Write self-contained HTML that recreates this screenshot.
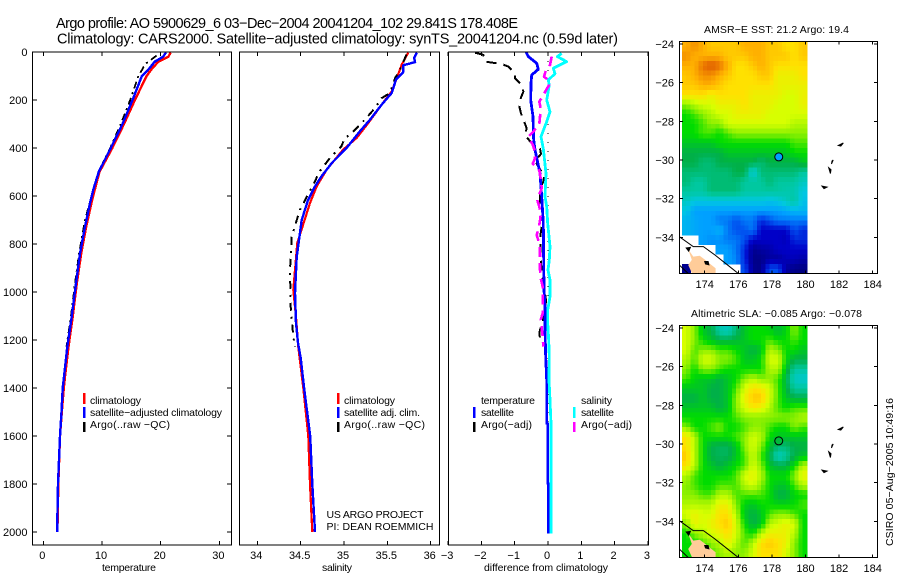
<!DOCTYPE html>
<html lang="en">
<head>
<meta charset="utf-8">
<title>Argo profile 5900629_6</title>
<style>
html,body{margin:0;padding:0;background:#fff;width:900px;height:580px;overflow:hidden}
svg{display:block}
text{font-family:"Liberation Sans",sans-serif;fill:#000}
</style>
</head>
<body>
<svg id="chart" width="900" height="580" viewBox="0 0 900 580" xmlns="http://www.w3.org/2000/svg">
  <rect width="900" height="580" fill="#fff"/>
  <text x="56" y="28" font-size="14.5" textLength="462" lengthAdjust="spacing">Argo profile: AO 5900629_6 03−Dec−2004 20041204_102 29.841S 178.408E</text>
  <text x="57" y="43.5" font-size="14.5" textLength="561" lengthAdjust="spacing">Climatology: CARS2000. Satellite−adjusted climatology: synTS_20041204.nc (0.59d later)</text>

  <g id="heat"></g>
  <g id="geo"></g>
  <g id="series"></g>
  <g id="axes"></g>

  <text x="102" y="571" font-size="10.5" textLength="54" lengthAdjust="spacing">temperature</text>
  <text x="322" y="571" font-size="10.5" textLength="30" lengthAdjust="spacing">salinity</text>
  <text x="484" y="571" font-size="10.5" textLength="124" lengthAdjust="spacing">difference from climatology</text>

  <g>
    <rect x="83" y="393" width="2.5" height="11" fill="#f00"/>
    <rect x="83" y="407" width="2.5" height="11" fill="#00f"/>
    <rect x="83" y="422" width="2.5" height="10" fill="#000"/>
    <text x="90" y="404" font-size="10.5" textLength="51" lengthAdjust="spacing">climatology</text>
    <text x="90" y="416" font-size="10.5" textLength="132" lengthAdjust="spacing">satellite−adjusted climatology</text>
    <text x="90" y="428" font-size="10.5" textLength="80" lengthAdjust="spacing">Argo(..raw −QC)</text>
  </g>
  <g>
    <rect x="337" y="393" width="2.5" height="11" fill="#f00"/>
    <rect x="337" y="407" width="2.5" height="11" fill="#00f"/>
    <rect x="337" y="422" width="2.5" height="10" fill="#000"/>
    <text x="344" y="404" font-size="10.5" textLength="51" lengthAdjust="spacing">climatology</text>
    <text x="344" y="416" font-size="10.5" textLength="76" lengthAdjust="spacing">satellite adj. clim.</text>
    <text x="344" y="428" font-size="10.5" textLength="81" lengthAdjust="spacing">Argo(..raw −QC)</text>
  </g>
  <text x="326.5" y="518" font-size="10.5" textLength="97" lengthAdjust="spacing">US ARGO PROJECT</text>
  <text x="326.5" y="530" font-size="10.5" textLength="107" lengthAdjust="spacing">PI: DEAN ROEMMICH</text>

  <g>
    <text x="481" y="404" font-size="10.5" textLength="54" lengthAdjust="spacing">temperature</text>
    <rect x="473" y="407" width="2.5" height="11" fill="#00f"/>
    <text x="481" y="416" font-size="10.5" textLength="33" lengthAdjust="spacing">satellite</text>
    <rect x="473" y="422" width="2.5" height="10" fill="#000"/>
    <text x="481" y="428" font-size="10.5" textLength="51" lengthAdjust="spacing">Argo(−adj)</text>
    <text x="581" y="404" font-size="10.5" textLength="31" lengthAdjust="spacing">salinity</text>
    <rect x="573" y="407" width="2.5" height="11" fill="#0ff"/>
    <text x="581" y="416" font-size="10.5" textLength="33" lengthAdjust="spacing">satellite</text>
    <rect x="573" y="422" width="2.5" height="10" fill="#f0f"/>
    <text x="581" y="428" font-size="10.5" textLength="51" lengthAdjust="spacing">Argo(−adj)</text>
  </g>

  <text x="704" y="33" font-size="10.5" textLength="145" lengthAdjust="spacing">AMSR−E SST: 21.2 Argo: 19.4</text>
  <text x="691" y="317" font-size="10.5" textLength="171" lengthAdjust="spacing">Altimetric SLA: −0.085 Argo: −0.078</text>
  <text transform="translate(893 546) rotate(-90)" font-size="10.5" textLength="148" lengthAdjust="spacing">CSIRO 05−Aug−2005 10:49:16</text>
</svg>

<script>
/* ---------- depth axis ---------- */
const depthTicks = [0,200,400,600,800,1000,1200,1400,1600,1800,2000];

/* ---------- temperature panel ---------- */
const tempTicks = [0,10,20,30];
const tempClimDepth = [2,20,40,70,100,200,300,400,500,575,630,728,839,964,1103,1228,1353,1400,1500,1600,1800,2000];
const tempClim = [21.7,21.3,19.6,18.5,17.6,15.6,13.75,11.76,9.55,8.75,8.2,7.3,6.45,5.7,5.0,4.3,3.7,3.5,3.15,2.85,2.56,2.4];
const tempSatDepth = [2,20,40,70,100,200,300,400,500,575,630,728,839,964,1103,1228,1353,1400,1500,1600,1800,2000];
const tempSat = [20.9,20.4,19.0,18.0,16.8,15.2,13.5,11.5,9.43,8.5,7.96,7.1,6.25,5.57,4.83,4.09,3.53,3.3,3.1,2.85,2.5,2.35];
const tempArgoDepth = [15,50,100,200,300,400,500,575,700,839,964,1103,1228];
const tempArgo = [19.3,17.4,16.2,14.8,13.2,11.4,9.4,8.5,7.1,6.1,5.4,4.7,3.95];

/* ---------- salinity panel ---------- */
const salTicks = [34,34.5,35,35.5,36];
const salTickLabels = ["34","34.5","35","35.5","36"];
const salClimDepth = [3,53,108,164,219,296,358,407,490,560,629,796,992,1104,1229,1400,1600,1800,2000];
const salClim = [35.74,35.666,35.61,35.55,35.435,35.28,35.146,34.99,34.80,34.685,34.608,34.461,34.415,34.446,34.473,34.53,34.588,34.608,34.634];
const salSatDepth = [3,25,42,55,83,115,171,219,282,330,400,462,518,560,617,700,854,1004,1129,1212,1275,1400,1600,1800,2000];
const salSat = [35.84,35.81,35.82,35.685,35.685,35.6,35.55,35.435,35.30,35.185,35.03,34.86,34.74,34.666,34.585,34.512,34.454,34.435,34.446,34.47,34.50,34.54,34.61,34.634,34.665];
const salArgoDepth = [11,74,108,171,192,233,282,344,358,393,441,497,553,658,771,908,1062,1187,1229];
const salArgo = [35.72,35.646,35.59,35.53,35.435,35.36,35.24,35.07,35.01,34.97,34.84,34.72,34.646,34.49,34.397,34.377,34.385,34.415,34.435];

/* ---------- difference panel ---------- */
const diffTicks = [-3,-2,-1,0,1,2,3];
const diffTickLabels = ["−3","−2","−1","0","1","2","3"];
const diffTSatDepth = [0,19,47,72,96,131,200,269,367,408,505,603,714,992,1061,1158,1269,1367,1547,1548,1797,1798,2006];
const diffTSat = [-.66,-.59,-.34,-.29,-.49,-.51,-.52,-.45,-.43,-.39,-.24,-.19,-.14,-.12,-.09,-.09,-.07,-.04,-.04,-.01,-.01,.01,.01];
const diffSSatDepth = [6,19,40,68,90,117,138,200,249,290,353,403,506,603,644,714,811,867,908,950,1019,1075,1130,1200,1269,1367,1450,1547,2006];
const diffSSat = [.41,.28,.56,.16,.21,.01,.04,-.04,.06,-.04,-.21,-.14,-.06,-.09,-.04,-.01,.06,.04,0,.06,.06,-.01,-.01,.02,.04,.03,.06,.09,.09];
const diffTArgoDepth = [3,12,40,50,61,89,110,138,165,200,228,256,318,346,381,403,425,453,485,512,540,567,631,631,686,756,811,867,922,1006,1033,1089,1158,1172,1214];
const diffTArgo = [-2.19,-1.94,-1.89,-1.39,-1.19,-.99,-.99,-.79,-.74,-.84,-.86,-.81,-.64,-.69,-.49,-.24,-.21,-.39,-.26,-.11,-.14,-.24,-.24,-.24,-.14,-.22,-.22,-.22,-.18,-.09,-.06,-.09,-.24,-.26,-.22];
const diffSArgoDepth = [19,54,75,103,117,138,179,207,235,270,299,332,353,386,415,443,466,493,534,568,603,617,644,679,703,734,763,797,839,908,943,978,1033,1089,1116,1186,1228];
const diffSArgo = [.11,.06,-.06,-.12,.01,.03,-.14,-.26,-.22,-.24,-.26,-.44,-.59,-.46,-.39,-.39,-.46,-.26,-.21,-.19,-.29,-.32,-.26,-.22,-.24,-.28,-.34,-.26,-.24,-.24,-.22,-.16,-.16,-.16,-.22,-.16,-.14];
const zeroLineDepth = [0,2020];
const zeroLineValue = [0,0];

/* ---------- maps ---------- */
const lonTicks = [174,176,178,180,182,184];
const latTicks = [-24,-26,-28,-30,-32,-34];
const argoLon = 178.408;
const argoLat = -29.841;
const argoSstLevel = 3;
const n = null;
const sstLevels = [
[11,11.5,11,10.5,10.5,10.5,10.5,11,11,11,10.5,10.5,10,10,10.5],
[11.5,11,11,11,11,10.5,10.5,10.5,11,11,10.5,10.5,10.5,10,10.5],
[11,11,12,12.5,12,11,10,10,10.5,11,10.5,10,10,10,10],
[10.5,11,11.5,11.5,11,10.5,10,10,10,10.5,10.5,9.5,9.5,9.5,10],
[10.5,10.5,11,11,10.5,10,10,10,10,10,10,9.5,9.5,9.5,9.5],
[10,10,10,9.5,10,10,10,10,9.5,9.5,9.5,9.5,9,9,9.5],
[8,8.5,9,9,9.5,9.5,9.5,10,9.5,9.5,9.5,9,9,9,9.5],
[7,7.5,8,8.5,9,9,9.5,9.5,9.5,9.5,9,9,9,9,9],
[7,7,7.5,8,8,9,9,9,9,9,9,9,9,8.5,8.5],
[7,7,7.5,7.5,7,7.5,8,8,8,8,8,8,8,8,8],
[6.5,6.5,6.5,6.5,7,7,7,7,7,7,7,7,7,7.5,7.5],
[6,6,6,6,6,6.5,6.5,6.5,6.5,6.5,6.5,6.5,6.5,7,7],
[6,6,5.5,5.5,6,6,6,6,6,5.5,6,6,6,6,6.5],
[5.5,5.5,5.5,5.5,5.5,5.5,6,6,4,5.5,5.5,5.5,5.5,5.5,5],
[5.5,5,5,5.5,5.5,5.5,5.5,5,5,5,5.5,5,5,5,4.5],
[5,5,5,5.5,5.5,5.5,5.5,5,5,5,5,5,4.8,4.8,4],
[4.5,4,4,4,4,4,4,4,4,4,3.8,4,4.5,5,3.8],
[4,3,3,3,3,3,3,3,3,3,3,3,3.2,3.5,3.5],
[3.5,3.2,3,3,2.5,2.5,2,2.5,2.5,1.5,2,2.5,2.5,2.5,2.5],
[3.5,3.2,3,3,3.4,2.5,2,2,2.5,1,1,1,1,2,1.5],
[n,n,3,2.8,2.8,2.5,2.5,2,1,1,1,1,.8,1.5,1.5],
[n,n,n,n,3,3,2.5,1.5,.3,.5,.6,1,1,1,1],
[n,n,n,n,n,3,2.7,1.5,.2,.2,.5,.4,.8,.8,.6],
[.3,n,n,n,n,n,n,2,.3,.2,2,2,.5,.2,.1]
];
const slaLevels = [
[9,8,6.5,6,4.8,4.5,5.5,6.5,7,7,6.8,6.2,6.8,8,7],
[9,8,7,6.5,6,6,6.2,6.5,7,7,7.5,7,7,7.5,7],
[9,7.5,8,8,7.5,7.5,7,6.5,6,6.5,8.5,8,7,7,6.5],
[8.5,7.5,9,9,8,8,7.5,6.5,6.5,7,9,9,7,6,6],
[8,7,8,8,7.5,7,7,7,7,7,8.5,8.5,6.5,5,5],
[7.5,6.8,6.5,6.5,6,6.5,7,8,8.5,8,8,7.5,6,4.5,4.3],
[6.5,6.5,6.5,6,6,6.5,7.5,9,10,9.8,9,7.5,6.2,5,5],
[6,6,6.5,6,6,6.5,8,9.5,10.5,10.5,9,7.5,6.5,6,6],
[6.5,6.5,6.5,6.5,6,6.5,8,9,9.8,9.5,8.5,7.5,7,7.5,7.5],
[7,7,7,7,7,7,7.5,8,8,8,8,8,8,8,8.5],
[8,7,7,7.5,8,7,7,7.5,8,8,7.5,7,7,8,7.5],
[10,8.5,7,7,7,7,7.5,8,9,8.5,7,6.5,6.5,6.5,6.5],
[10,8.5,7,6,5.8,5.8,6.5,8,9,8,6.5,5.5,5.5,6,6],
[10.5,8.5,7,6,5.8,5.8,6.5,7.5,8.8,7.5,6,4.5,5,6,6.5],
[10,8.5,7,6.5,6,6.5,7,7.5,9,8,6.5,6,6,7,8.5],
[8.5,7.5,7,7,7,7,7.5,9,9.5,8.5,7,7,7,8,9.5],
[8,7.5,7,7,7.5,7.5,7.5,8.5,9,8,7,6.5,6.5,7.5,8.5],
[8,8,7.5,7.5,8.5,8.5,7.5,7.5,7.5,7.5,7,6,6,6.8,7],
[8.5,8.5,8.5,8.5,9.5,9.5,8,6.8,6.5,7,7,6.8,6.8,7,7.5],
[9,9.5,9,9,10,10,8.5,6.5,6,6.5,7.5,8,8,7.5,7],
[8,9.5,9,9.5,10,10.5,9,7,6,6.5,8.5,9,9.5,9,7],
[7,8,8.5,9,9.5,10,9,7.5,7,8.5,9.5,9.5,9.5,8.5,7],
[7,7,7.5,8,8.5,9.5,8.5,7.5,8.5,10,10.5,10,9.5,8,7],
[7,7,7,7.5,8,8.5,8,8,9,10,10,10,9,8,7]
];
const landLon = [173.02,173.32,173.7,174.0,174.42,174.65,174.65,173.25,173.02,173.23];
const landLat = [-34.62,-35.0,-34.95,-35.15,-35.45,-35.6,-35.87,-35.87,-35.43,-35.17];
const coastALon = [172.49,173.32,173.92,174.6,175.6,176];
const coastALat = [-33.97,-34.48,-34.48,-34.91,-35.6,-35.87];
const coastBLon = [172.49,173.02];
const coastBLat = [-35.43,-35.87];
const patchALon = [172.9,173.15,173.05];
const patchALat = [-34.55,-34.52,-34.72];
const patchBLon = [174.0,174.2,174.25,174.05];
const patchBLat = [-35.25,-35.25,-35.42,-35.38];
const islandLons = [[181.95,182.25,182.1],[181.55,181.65,181.58],[181.38,181.52,181.48],[180.98,181.28,181.1]];
const islandLats = [[-29.25,-29.12,-29.28],[-30.2,-30.0,-30.05],[-30.4,-30.5,-30.7],[-31.35,-31.4,-31.48]];

/* ---------- colour scale ---------- */
const levelStops = [0,1,2,3,4,5,6,7,8,9,10,11,12,13];
const levelColors = [[0,0,120],[0,0,200],[0,80,240],[0,160,255],[0,200,225],[0,200,160],[0,176,72],[0,220,0],[140,240,0],[215,255,0],[255,225,0],[255,176,0],[232,112,0],[210,80,0]];

/* ---------- scales ---------- */
const NS = "http://www.w3.org/2000/svg";
const PLOT_TOP = 52, PLOT_BOTTOM = 545;
const yDepth = d => 52 + 0.24 * d;
const xTemp = v => 43.3 + 5.87 * v;
const xSal = v => 257.3 + 86.7 * (v - 34);
const xDiff = v => 548 + 33.3 * v;
const xLon = v => 704.7 + 16.8 * (v - 174);
const yLat = (v, off) => off + 160 + (-30 - v) * 19.33;

const heatG = document.getElementById("heat");
const geoG = document.getElementById("geo");
const seriesG = document.getElementById("series");
const axesG = document.getElementById("axes");

function make(tag, parent, attrs, txt) {
  const el = document.createElementNS(NS, tag);
  for (const k in attrs) el.setAttribute(k, attrs[k]);
  if (txt !== undefined) el.textContent = txt;
  parent.appendChild(el);
  return el;
}
function levelColor(v) {
  let i = 0;
  while (i < levelStops.length - 2 && v > levelStops[i + 1]) i++;
  const f = Math.max(0, Math.min(1, (v - levelStops[i]) / (levelStops[i + 1] - levelStops[i])));
  const a = levelColors[i], b = levelColors[i + 1];
  return "rgb(" + [0,1,2].map(c => Math.round(a[c] + (b[c] - a[c]) * f)).join(",") + ")";
}
function drawLine(depths, vals, xf, name, color, width, dash) {
  const pts = depths.map((d, i) => xf(vals[i]).toFixed(1) + "," + yDepth(d).toFixed(1)).join(" ");
  const attrs = {points: pts, fill: "none", stroke: color, "stroke-width": width, "stroke-linejoin": "round", "shape-rendering": "crispEdges"};
  if (dash) attrs["stroke-dasharray"] = dash;
  const el = make("polyline", seriesG, attrs);
  
  
}
function frame(x0, y0, x1, y1, name) {
  const el = make("rect", axesG, {x: x0, y: y0, width: x1 - x0, height: y1 - y0, fill: "none", stroke: "#000", "stroke-width": 1, "shape-rendering": "crispEdges"});
  
  
}
function tick(x0, y0, x1, y1) {
  const el = make("line", axesG, {x1: x0, y1: y0, x2: x1, y2: y1, stroke: "#000", "stroke-width": 1, "shape-rendering": "crispEdges"});
  
  
}
function label(x, y, str, anchor) {
  const el = make("text", axesG, {x: x, y: y, "font-size": 11, "text-anchor": anchor}, str);
  
  
}

/* ---------- series ---------- */
drawLine(tempClimDepth, tempClim, xTemp, "temperature-climatology-line", "#f00", 2.4);
drawLine(tempArgoDepth, tempArgo, xTemp, "temperature-argo-line", "#000", 1.8, "7 4 2 4");
drawLine(tempSatDepth, tempSat, xTemp, "temperature-satellite-line", "#00f", 2.4);

drawLine(salClimDepth, salClim, xSal, "salinity-climatology-line", "#f00", 2.2);
drawLine(salArgoDepth, salArgo, xSal, "salinity-argo-line", "#000", 2, "8 6 2 6");
drawLine(salSatDepth, salSat, xSal, "salinity-satellite-line", "#00f", 2.4);

drawLine(zeroLineDepth, zeroLineValue, xDiff, "zero-difference-line", "#000", 1, "1 8");
drawLine(diffTArgoDepth, diffTArgo, xDiff, "difference-temperature-argo-line", "#000", 2, "10 7");
drawLine(diffTSatDepth, diffTSat, xDiff, "difference-temperature-satellite-line", "#00f", 2.8);
drawLine(diffSSatDepth, diffSSat, xDiff, "difference-salinity-satellite-line", "#0ff", 2.8);
drawLine(diffSArgoDepth, diffSArgo, xDiff, "difference-salinity-argo-line", "#f0f", 2.6, "10 6");

/* ---------- profile axes ---------- */
frame(32.5, PLOT_TOP, 231.5, PLOT_BOTTOM, "temperature-plot-frame");
frame(239.5, PLOT_TOP, 439.5, PLOT_BOTTOM, "salinity-plot-frame");
frame(448.5, PLOT_TOP, 648.5, PLOT_BOTTOM, "difference-plot-frame");
depthTicks.forEach(d => {
  const y = yDepth(d);
  tick(32.5, y, 37, y);
  tick(227, y, 231.5, y);
  label(27.5, y + 4, String(d), "end");
});
tempTicks.forEach(v => {
  const x = xTemp(v);
  tick(x, PLOT_TOP, x, PLOT_TOP + 4);
  tick(x, PLOT_BOTTOM, x, PLOT_BOTTOM - 4);
  label(x - 1, 559, String(v), "middle");
});
salTicks.forEach((v, i) => {
  const x = xSal(v);
  tick(x, PLOT_TOP, x, PLOT_TOP + 4);
  tick(x, PLOT_BOTTOM, x, PLOT_BOTTOM - 4);
  label(x - 1, 559, salTickLabels[i], "middle");
});
diffTicks.forEach((v, i) => {
  const x = xDiff(v);
  tick(x, PLOT_TOP, x, PLOT_TOP + 4);
  tick(x, PLOT_BOTTOM, x, PLOT_BOTTOM - 4);
  label(x - 1, 559, diffTickLabels[i], "middle");
});

/* ---------- maps ---------- */
const LON0 = 172.65, LON_STEP = 0.4955, LAT0 = -23.88, LAT_STEP = 0.5;
const CELL_SPLIT = 2;
/* Blend a grid reading with its neighbours so each grid value paints CELL_SPLIT² small pixels. */
function blended(grid, u, v) {
  const r0 = Math.floor(u), c0 = Math.floor(v), fr = u - r0, fc = v - c0;
  let sum = 0, wt = 0;
  [[r0, c0, (1 - fr) * (1 - fc)], [r0, c0 + 1, (1 - fr) * fc], [r0 + 1, c0, fr * (1 - fc)], [r0 + 1, c0 + 1, fr * fc]].forEach(p => {
    const row = grid[p[0]];
    const val = row ? row[p[1]] : undefined;
    if (val !== undefined && val !== null) { sum += val * p[2]; wt += p[2]; }
  });
  return wt ? sum / wt : null;
}
function drawHeat(grid, off, prefix) {
  const dLon = LON_STEP / CELL_SPLIT, dLat = LAT_STEP / CELL_SPLIT;
  grid.forEach((row, r) => row.forEach((v, c) => {
    if (v === null) return;
    for (let i = 0; i < CELL_SPLIT; i++) for (let j = 0; j < CELL_SPLIT; j++) {
      const val = blended(grid, r + (i + .5) / CELL_SPLIT - .5, c + (j + .5) / CELL_SPLIT - .5);
      const lon = LON0 + c * LON_STEP + j * dLon, lat = LAT0 - r * LAT_STEP - i * dLat;
      const x0 = xLon(lon), x1 = xLon(lon + dLon), y0 = yLat(lat, off), y1 = yLat(lat - dLat, off);
      const el = make("rect", heatG, {x: x0.toFixed(1), y: y0.toFixed(1), width: (x1 - x0 + .4).toFixed(1), height: (y1 - y0 + .4).toFixed(1), fill: levelColor(val), "shape-rendering": "crispEdges"});
      
      
    }
  }));
}
function geoShape(tag, lons, lats, off, name, fill, stroke) {
  const pts = lons.map((v, i) => xLon(v).toFixed(1) + "," + yLat(lats[i], off).toFixed(1)).join(" ");
  const el = make(tag, geoG, {points: pts, fill: fill, stroke: stroke, "stroke-width": 1});
  
  
}
function drawMapFurniture(off, top, bottom, prefix) {
  geoShape("polygon", landLon, landLat, off, "new-zealand-land", "#ffcc99", "none");
  geoShape("polygon", patchALon, patchALat, off, "coast-patch", "#000", "#000");
  geoShape("polygon", patchBLon, patchBLat, off, "coast-patch", "#000", "#000");
  geoShape("polyline", coastALon, coastALat, off, "depth-contour", "none", "#000");
  geoShape("polyline", coastBLon, coastBLat, off, "depth-contour", "none", "#000");
  islandLons.forEach((lons, i) => geoShape("polygon", lons, islandLats[i], off, "island", "#000", "#000"));
  frame(679.5, top, 877.5, bottom, prefix + "-map-frame");
  lonTicks.forEach(v => {
    const x = xLon(v);
    tick(x, top, x, top + 3);
    tick(x, bottom, x, bottom - 3);
    label(x, bottom + 14.5, String(v), "middle");
  });
  latTicks.forEach(v => {
    const y = yLat(v, off);
    tick(679.5, y, 683, y);
    tick(877.5, y, 874, y);
    label(674, y + 4, "−" + Math.abs(v), "end");
  });
}
drawHeat(sstLevels, 0, "sst");
drawHeat(slaLevels, 284, "sla");
drawMapFurniture(0, 41.5, 273.5, "sst");
drawMapFurniture(284, 325.5, 557.5, "sla");

const sstMarker = make("circle", geoG, {cx: xLon(argoLon), cy: yLat(argoLat, 0), r: 4, fill: levelColor(argoSstLevel), stroke: "#000", "stroke-width": 1});


const slaMarker = make("circle", geoG, {cx: xLon(argoLon), cy: yLat(argoLat, 284), r: 4, fill: levelColor(6.2), stroke: "#000", "stroke-width": 1});


</script>
</body>
</html>
